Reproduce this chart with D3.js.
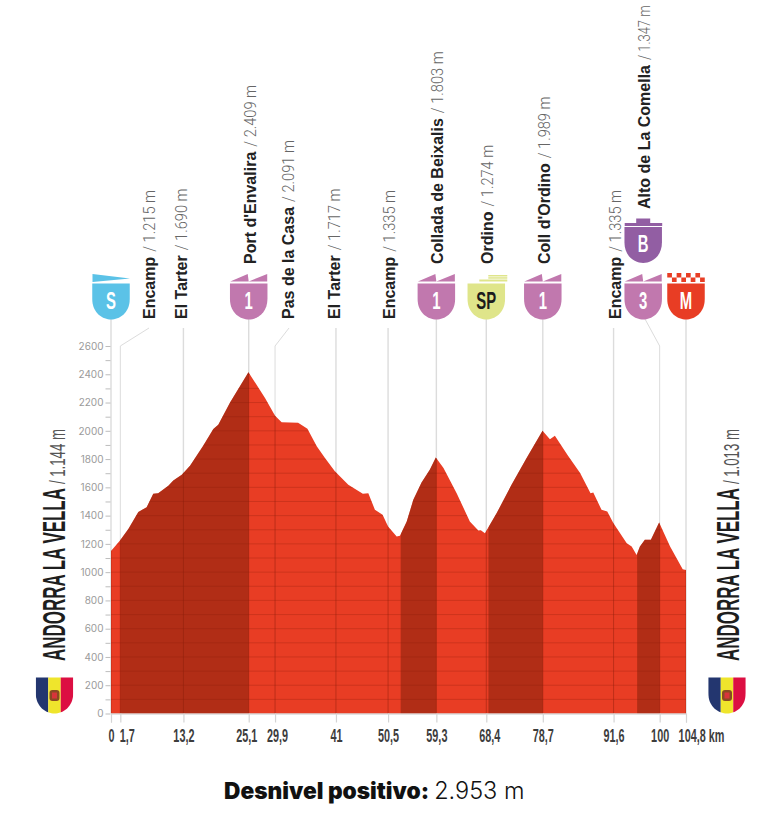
<!DOCTYPE html>
<html>
<head>
<meta charset="utf-8">
<script src="https://cdn.jsdelivr.net/npm/d3@7"></script>
<style>
html,body{margin:0;padding:0;background:#fff;}
svg{display:block;}
</style>
</head>
<body>
<div id="profile"></div>
<script>
// Profile
const profileKm=[0,1.64,3.16,4.98,6.5,7.7,8.6,10.45,11.35,12.9,14.4,16.8,18.65,19.55,21.7,25.05,28.07,29.9,31.1,34.1,35.8,37.5,39,40.8,43.25,45.9,46.9,48.1,49.5,50.5,52.07,52.67,53.9,55.1,56.6,58.1,59.2,60.6,63,65.4,66.95,67.4,68.15,70.3,73,75.75,78.65,80,80.9,83.3,85.5,87.4,87.9,89.4,90.45,91.55,94,94.9,95.8,96.4,97.3,98.4,99.9,101.9,104.2,104.8];
const profileEle=[1150,1224,1306,1425,1460,1554,1559,1611,1649,1689,1753,1894,2012,2043,2201,2415,2232,2107,2060,2057,2015,1890,1807,1713,1618,1555,1559,1441,1406,1323,1252,1257,1358,1512,1635,1725,1812,1736,1559,1358,1295,1297,1276,1418,1618,1807,2000,1941,1965,1823,1701,1559,1564,1441,1429,1347,1205,1181,1122,1181,1229,1229,1351,1181,1021,1016];

// Climbs shaded darker
const climbStart=[1.7,52.8,68.8,95.9];
const climbEnd=[25.1,59.3,78.7,100];

// Km marks on the axis
const markKm=[0,1.7,13.2,25.1,29.9,41,50.5,59.3,68.4,78.7,91.6,100,104.8];
const markLabel=["0","1,7","13,2","25,1","29,9","41","50,5","59,3","68,4","78,7","91,6","100","104,8 km"];

// Places
const placeKm=[1.7,13.2,25.1,29.9,41,50.5,59.3,68.4,78.7,91.6,100];
const placeName=["Encamp","El Tarter","Port d'Envalira","Pas de la Casa","El Tarter","Encamp","Collada de Beixalis","Ordino","Coll d'Ordino","Encamp","Alto de La Comella"];
const placeAlt=["1.215 m","1.690 m","2.409 m","2.091 m","1.717 m","1.335 m","1.803 m","1.274 m","1.989 m","1.335 m","1.347 m"];

// Badges
const badgeKm=[0,25.1,59.3,68.4,78.7,97,104.8,97];
const badgeType=["start","cat","cat","sprint","cat","cat","finish","bonus"];
const badgeText=["S","1","1","SP","1","3","M","B"];

const startName="ANDORRA LA VELLA", startAlt="1.144 m";
const finishName="ANDORRA LA VELLA", finishAlt="1.013 m";

const RED="#e83d24", DARK="#8a1d0c";
const sans="'Liberation Sans',sans-serif";
const w=776, h=820;

const svg=d3.select("#profile").append("svg").attr("width",w).attr("height",h);
const x=d3.scaleLinear().domain([0,104.8]).range([111,686]);
const y=d3.scaleLinear().domain([0,2600]).range([713.5,346]);
const defs=svg.append("defs");

const points=profileKm.map((k,i)=>[k,profileEle[i]]);
const area=d3.area().x(d=>x(d[0])).y0(y(0)).y1(d=>y(d[1]));
defs.append("clipPath").attr("id","prof").append("path").attr("d",area(points));

// Vertical guide lines behind the profile
const plainKm=markKm.filter(k=>k!==1.7 && k!==29.9 && k!==100);
const topOf=k=>(badgeKm.includes(k)?319:328);
svg.append("g").selectAll("line").data(plainKm).enter().append("line")
	.attr("x1",d=>x(d)).attr("x2",d=>x(d))
	.attr("y1",d=>topOf(d)).attr("y2",y(0))
	.attr("stroke","#dcdcdc").attr("stroke-width",1.4);

// Leaders that bend towards their label
const leaders=[[1.7,149,328],[29.9,289,328],[100,645,319]];
svg.append("g").selectAll("path").data(leaders).enter().append("path")
	.attr("d",d=>`M${d[1]},${d[2]}L${x(d[0])},346L${x(d[0])},${y(0)}`)
	.attr("fill","none").attr("stroke","#dcdcdc").attr("stroke-width",1);

svg.append("path").attr("d",area(points)).attr("fill",RED);

const over=svg.append("g").attr("clip-path","url(#prof)");
over.selectAll("rect").data(climbStart).enter().append("rect")
	.attr("x",d=>x(d)).attr("width",(d,i)=>x(climbEnd[i])-x(d))
	.attr("y",y(2600)).attr("height",y(0)-y(2600))
	.attr("fill","#7a1d08").attr("opacity",0.5);
over.append("g").selectAll("line").data(d3.range(100,2600,100)).enter().append("line")
	.attr("x1",x(0)).attr("x2",x(104.8)).attr("y1",d=>y(d)).attr("y2",d=>y(d))
	.attr("stroke",DARK).attr("stroke-opacity",0.28).attr("stroke-width",1);
over.append("g").selectAll("line").data(markKm).enter().append("line")
	.attr("x1",d=>x(d)).attr("x2",d=>x(d)).attr("y1",y(2600)).attr("y2",y(0))
	.attr("stroke",DARK).attr("stroke-opacity",0.45).attr("stroke-width",1);

// Elevation axis
const yAxis=d3.axisLeft(y).tickValues(d3.range(0,2700,100))
	.tickSize(5).tickPadding(2).tickFormat(d=>d%200===0?d:"");
const gy=svg.append("g").attr("transform","translate(110.5,0)").call(yAxis);
gy.select(".domain").remove();
gy.selectAll("line").attr("stroke","#bdbdbd");
gy.selectAll("text").attr("fill","#9a9a9a").style("font-family","Inter,sans-serif").style("font-size","10px");

// Km axis, labels squeezed to look condensed
const tickShift={0:0,1.7:6.5,25.1:-2.5,29.9:2,68.4:3,104.8:15};
const xAxis=d3.axisBottom(x).tickValues(markKm).tickSize(9).tickPadding(7)
	.tickFormat(d=>markLabel[markKm.indexOf(d)]);
const gx=svg.append("g").attr("transform",`translate(0,${y(0)})`).call(xAxis);
gx.select(".domain").attr("stroke","#c8c8c8");
gx.selectAll("line").attr("stroke","#d4d4d4").attr("stroke-width",1.2);
gx.selectAll("text").attr("fill","#3d3d3d")
	.style("font-family",sans).style("font-weight","700").style("font-size","17.5px")
	.attr("transform",d=>`translate(${tickShift[d]||0},0) scale(0.62,1)`);

// Place labels, rotated
const labelTop=i=>{
	if(placeKm[i]===100) return 209;
	return badgeKm.includes(placeKm[i])?264:319;
};
const labelX=i=>{
	if(placeKm[i]===1.7) return 155;
	if(placeKm[i]===29.9) return 294;
	if(placeKm[i]===100) return 650;
	return x(placeKm[i])+(placeKm[i]===13.2||placeKm[i]===41?4:7);
};
placeName.forEach((name,i)=>{
	const g=svg.append("g").attr("transform",`translate(${labelX(i)},${labelTop(i)}) rotate(-90)`);
	const t=g.append("text").attr("fill","#222").style("font-family",sans)
		.style("font-weight","700").style("font-size","16px").text(name);
	const len=t.node().getComputedTextLength();
	// the top label runs up to the page edge, so it is squeezed a bit more
	const squeeze=placeKm[i]===100?0.76:0.86;
	g.append("text").attr("transform",`translate(${len+5},0) scale(${squeeze},1)`).attr("fill","#666")
		.style("font-family","Roboto,sans-serif").style("font-weight","300").style("font-size","17px")
		.text("/ "+placeAlt[i]);
});

// Badges
const shield=(cx,top,wd,ht)=>{
	const r=wd/2;
	return `M${cx-r},${top}H${cx+r}V${top+ht-r-2}C${cx+r},${top+ht-6} ${cx+8},${top+ht} ${cx},${top+ht}C${cx-8},${top+ht} ${cx-r},${top+ht-6} ${cx-r},${top+ht-r-2}Z`;
};
const badgeColor={start:"#5bc2e7",cat:"#c178ae",sprint:"#dfe58a",finish:RED,bonus:"#925ea3"};
const gb=svg.append("g");
badgeKm.forEach((k,i)=>{
	const t=badgeType[i], cx=x(k), top=t==="bonus"?227:283.5, c=badgeColor[t];
	const g=gb.append("g");
	g.append("path").attr("d",shield(cx,top,37.5,36)).attr("fill",c);
	if(t==="start"){
		g.append("path").attr("d",`M${cx-18.5},274L${cx+19},278.5L${cx-18.5},282Z`).attr("fill",c);
	}else if(t==="cat"){
		g.append("path").attr("d",`M${cx-18.5},281.5L${cx-1},274L${cx},281.5L${cx+18.5},274V281.5Z`).attr("fill",c);
	}else if(t==="sprint"){
		g.append("rect").attr("x",cx+2).attr("y",275).attr("width",19).attr("height",1.5).attr("fill",c);
		g.append("rect").attr("x",cx+2).attr("y",277.2).attr("width",19).attr("height",1.5).attr("fill",c);
		g.append("rect").attr("x",cx-7).attr("y",279.5).attr("width",28).attr("height",2).attr("fill",c);
	}else if(t==="finish"){
		// checkered strip
		d3.range(0,8).forEach(n=>{
			g.append("rect").attr("x",cx-18.75+n*4.69).attr("y",n%2?277.5:273)
				.attr("width",4.69).attr("height",4.5).attr("fill",c);
		});
	}else if(t==="bonus"){
		g.append("rect").attr("x",cx-18.5).attr("y",223).attr("width",37.5).attr("height",3).attr("fill",c);
		g.append("rect").attr("x",cx-7).attr("y",218.5).attr("width",14).attr("height",4.5).attr("fill",c);
	}
	g.append("text").attr("transform",`translate(${cx},${top+25}) scale(0.62,1)`).attr("text-anchor","middle")
		.attr("fill",t==="sprint"?"#1c1c1c":"#fff")
		.style("font-family",sans).style("font-weight","700").style("font-size","24px")
		.text(badgeText[i]);
});

// Start and finish names
const townLabel=(cx,name,alt)=>{
	const g=svg.append("g").attr("transform",`translate(${cx},661) rotate(-90)`);
	const t=g.append("text").attr("transform","scale(0.53,1)").attr("fill","#1e1e1e")
		.style("font-family",sans).style("font-weight","700").style("font-size","32px").text(name);
	const len=t.node().getComputedTextLength()*0.53;
	g.append("text").attr("transform",`translate(${len+4},0) scale(0.6,1)`).attr("fill","#555")
		.style("font-family",sans).style("font-size","22px").text("/ "+alt);
};
townLabel(65,startName,startAlt);
townLabel(739,finishName,finishAlt);

// Andorra flag shields
[54.5,727].forEach((cx,i)=>{
	defs.append("clipPath").attr("id","flag"+i).append("path").attr("d",shield(cx,677.5,37.5,36));
	const f=svg.append("g").attr("clip-path",`url(#flag${i})`);
	["#23366f","#efe52c","#dc0f42"].forEach((c,n)=>{
		f.append("rect").attr("x",cx-18.75+n*12.5).attr("y",677).attr("width",12.5).attr("height",37).attr("fill",c);
	});
	svg.append("rect").attr("x",cx-5).attr("y",690).attr("width",10).attr("height",11).attr("rx",3).attr("fill","#8a4a22");
	svg.append("rect").attr("x",cx-2.5).attr("y",692.5).attr("width",5).attr("height",6).attr("fill","#d8343a");
});

// Footer
const foot=svg.append("text").attr("x",224).attr("y",799).style("font-family","Inter,sans-serif").attr("fill","#111");
foot.append("tspan").style("font-weight","900").style("font-size","22.7px").text("Desnivel positivo:");
foot.append("tspan").attr("dx",5).style("font-weight","300").style("font-size","23.5px").text("2.953 m");
</script>
</body>
</html>
